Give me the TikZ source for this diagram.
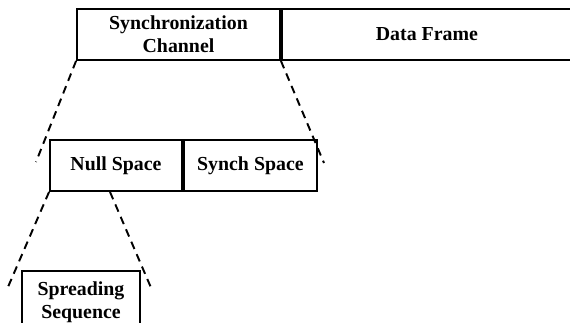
\documentclass[tikz,border=0pt]{standalone}
\usepackage{fontspec}
\setmainfont{Liberation Serif}
\usetikzlibrary{positioning,calc}
\tikzset{
  base/.style={font=\bfseries\fontsize{11.3}{13}\selectfont, align=center, inner sep=1pt, text=black},
  box/.style={base, rectangle, draw=black, fill=white, line width=1.1pt, minimum height=1.02cm},
  zoomline/.style={draw=black, line width=1.1pt, dash pattern=on 4.5pt off 3.2pt},
}
\begin{document}
\begin{tikzpicture}[x=0.02cm,y=-0.02cm]
  \clip (0,0) rectangle (570,323);
  % frame
  \node[box,minimum width=4.06cm] (sync) at (178.5,34.5) {Synchronization\\Channel};
  \node[box,minimum width=5.8cm,anchor=west] (data) at (sync.east) {Data Frame};
  % synchronization channel
  \node[box,minimum width=2.64cm] (null) at (116,165.5) {Null Space};
  \node[box,minimum width=2.66cm,anchor=west] (synch) at (null.east) {Synch Space};
  % null space
  \node[box,minimum width=2.36cm,minimum height=1.26cm] (spread) at (81,302.5) {Spreading\\Sequence};
  % zoom lines
  \coordinate (l1) at (36,162);
  \coordinate (r1) at (324,163);
  \coordinate (l2) at (8,287);
  \coordinate (r2) at (152,290);
  \draw[zoomline] (sync.south west) -- (l1);
  \draw[zoomline] (sync.south east) -- (r1);
  \draw[zoomline] (null.south west) -- (l2);
  \draw[zoomline] ($(null.south)+(-6,0)$) -- (r2);
\end{tikzpicture}
\end{document}
